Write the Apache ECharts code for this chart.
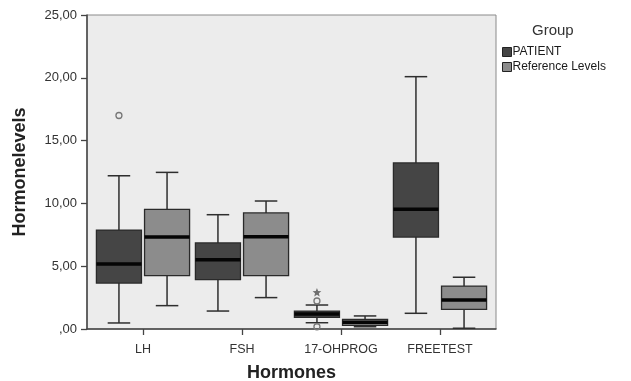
<!DOCTYPE html>
<html>
<head>
<meta charset="utf-8">
<script src="https://cdn.jsdelivr.net/npm/echarts@6/dist/echarts.min.js"></script>
<style>
  html, body { margin: 0; padding: 0; background: #fff; }
  #main { width: 631px; height: 381px; }
</style>
</head>
<body>
<div id="main"></div>
<script>
// hormones on the x axis
var categories = ['LH', 'FSH', '17-OHPROG', 'FREETEST'];

// [lower whisker, Q1, median, Q3, upper whisker]
var patient = [
  [0.48, 3.66, 5.17, 7.88, 12.2],
  [1.43, 3.93, 5.52, 6.85, 9.1],
  [0.5, 0.93, 1.19, 1.43, 1.91],
  [1.25, 7.32, 9.53, 13.22, 20.09]
];
var reference = [
  [1.86, 4.25, 7.32, 9.53, 12.47],
  [2.5, 4.25, 7.35, 9.24, 10.19],
  [0.18, 0.29, 0.53, 0.77, 1.04],
  [0.06, 1.57, 2.31, 3.42, 4.12]
];

// outliers of the PATIENT group: [category index, value]
var patientOutliers = [[0, 17.0], [2, 2.23], [2, 0.18]];
var patientExtremes = [[2, 2.89]];

var yTicks = [0, 5, 10, 15, 20, 25];

var fontFamily = 'Arial, "Liberation Sans", sans-serif';

function boxData(rows) {
  return rows.map(function (r, i) { return [i].concat(r); });
}

// side: -1 = left box (PATIENT), +1 = right box (Reference Levels)
function makeBoxRenderer(side, fill) {
  return function (params, api) {
    var i = api.value(0);
    var band = api.size([1, 0])[0];
    var cx = api.coord([i, 0])[0] + side * band * 0.243;
    var w = band * 0.455;
    var y = function (k) { return api.coord([i, api.value(k)])[1]; };
    var yMin = y(1), yQ1 = y(2), yMed = y(3), yQ3 = y(4), yMax = y(5);
    var line = { stroke: '#2e2e2e', lineWidth: 1.5 };
    return {
      type: 'group',
      children: [
        { type: 'line', shape: { x1: cx, y1: yQ3, x2: cx, y2: yMax }, style: line },
        { type: 'line', shape: { x1: cx, y1: yQ1, x2: cx, y2: yMin }, style: line },
        { type: 'line', shape: { x1: cx - w / 4, y1: yMax, x2: cx + w / 4, y2: yMax }, style: line },
        { type: 'line', shape: { x1: cx - w / 4, y1: yMin, x2: cx + w / 4, y2: yMin }, style: line },
        { type: 'rect', shape: { x: cx - w / 2, y: yQ3, width: w, height: yQ1 - yQ3 },
          style: { fill: fill, stroke: '#2a2a2a', lineWidth: 1.3 } },
        { type: 'line', shape: { x1: cx - w / 2, y1: yMed, x2: cx + w / 2, y2: yMed },
          style: { stroke: '#050505', lineWidth: 3.5 } }
      ]
    };
  };
}

function starPoints(cx, cy, r1, r2) {
  var pts = [];
  for (var k = 0; k < 10; k++) {
    var r = k % 2 === 0 ? r1 : r2;
    var a = -Math.PI / 2 + k * Math.PI / 5;
    pts.push([cx + r * Math.cos(a), cy + r * Math.sin(a)]);
  }
  return pts;
}

function makeOutlierRenderer(side, kind) {
  return function (params, api) {
    var band = api.size([1, 0])[0];
    var p = api.coord([api.value(0), api.value(1)]);
    var cx = p[0] + side * band * 0.243;
    if (kind === 'star') {
      return { type: 'polygon', shape: { points: starPoints(cx, p[1], 4.6, 2) },
        style: { fill: '#6f6f6f' } };
    }
    return { type: 'circle', shape: { cx: cx, cy: p[1], r: 3 },
      style: { fill: 'none', stroke: '#777', lineWidth: 1.3 } };
  };
}

var chart = echarts.init(document.getElementById('main'));

var option = {
  animation: false,
  textStyle: { fontFamily: fontFamily },
  title: {
    text: 'Group',
    left: 527, top: 18,
    textStyle: { fontSize: 15, fontWeight: 'normal', color: '#333', fontFamily: fontFamily }
  },
  legend: {
    data: ['PATIENT', 'Reference Levels'],
    orient: 'vertical',
    left: 502, top: 46,
    icon: 'rect',
    itemWidth: 9, itemHeight: 9, itemGap: 3,
    padding: 0,
    textStyle: { fontSize: 12, color: '#1a1a1a', padding: [0, 0, 0, -4], fontFamily: fontFamily },
    itemStyle: { borderColor: '#222', borderWidth: 1 }
  },
  grid: [
    { left: 87, top: 15, width: 409, height: 314, show: true, outerBoundsMode: 'none',
      backgroundColor: '#ececec', borderColor: '#8a8a8a', borderWidth: 1 },
    { left: 93.5, top: 15, width: 396, height: 314, outerBoundsMode: 'none' }
  ],
  xAxis: [
    { gridIndex: 0, type: 'value', min: 0, max: 1,
      axisLine: { show: true, lineStyle: { color: '#444', width: 1.5 } },
      axisTick: { show: false }, axisLabel: { show: false }, splitLine: { show: false } },
    { gridIndex: 1, type: 'category', data: categories,
      name: 'Hormones', nameLocation: 'middle', nameGap: 35,
      nameTextStyle: { fontSize: 18, fontWeight: 'bold', color: '#222', fontFamily: fontFamily },
      axisLine: { show: false },
      axisTick: { show: true, alignWithLabel: true, length: 6, lineStyle: { color: '#444', width: 1.3 } },
      axisLabel: { fontSize: 12.5, color: '#333', margin: 14, fontFamily: fontFamily },
      splitLine: { show: false } }
  ],
  yAxis: [
    { gridIndex: 0, type: 'value', min: yTicks[0], max: yTicks[yTicks.length - 1], interval: 5,
      name: 'Hormonelevels', nameLocation: 'middle', nameGap: 58,
      nameTextStyle: { fontSize: 18, fontWeight: 'bold', color: '#222', fontFamily: fontFamily },
      axisLine: { show: true, lineStyle: { color: '#444', width: 1.5 } },
      axisTick: { show: true, length: 6, lineStyle: { color: '#444', width: 1.3 } },
      axisLabel: {
        fontSize: 13, color: '#333', margin: 10, fontFamily: fontFamily,
        formatter: function (v) { return v === 0 ? ',00' : v.toFixed(2).replace('.', ','); }
      },
      splitLine: { show: false } },
    { gridIndex: 1, type: 'value', min: yTicks[0], max: yTicks[yTicks.length - 1], show: false }
  ],
  series: [
    { name: 'PATIENT', type: 'custom', xAxisIndex: 1, yAxisIndex: 1,
      itemStyle: { color: '#454545' },
      renderItem: makeBoxRenderer(-1, '#454545'),
      encode: { x: 0, y: [1, 2, 3, 4, 5] },
      data: boxData(patient) },
    { name: 'Reference Levels', type: 'custom', xAxisIndex: 1, yAxisIndex: 1,
      itemStyle: { color: '#8c8c8c' },
      renderItem: makeBoxRenderer(1, '#8c8c8c'),
      encode: { x: 0, y: [1, 2, 3, 4, 5] },
      data: boxData(reference) },
    { name: 'outliers', type: 'custom', xAxisIndex: 1, yAxisIndex: 1, z: 3,
      renderItem: makeOutlierRenderer(-1, 'circle'),
      encode: { x: 0, y: 1 },
      data: patientOutliers },
    { name: 'extremes', type: 'custom', xAxisIndex: 1, yAxisIndex: 1, z: 3,
      renderItem: makeOutlierRenderer(-1, 'star'),
      encode: { x: 0, y: 1 },
      data: patientExtremes }
  ]
};

chart.setOption(option);
</script>
</body>
</html>
